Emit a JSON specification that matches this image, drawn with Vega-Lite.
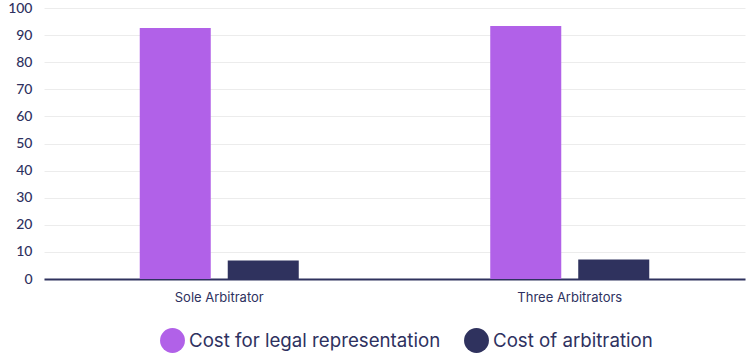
{
  "$schema": "https://vega.github.io/schema/vega-lite/v6.json",
  "width": 701,
  "height": 271,
  "autosize": {"type": "none"},
  "padding": {"left": 44, "top": 8, "right": 6, "bottom": 83},
  "background": "white",
  "config": {"view": {"stroke": null}},
  "data": {
    "values": [
      {"arbitration": "Sole Arbitrator", "cost": "Cost for legal representation", "value": 92.6},
      {"arbitration": "Sole Arbitrator", "cost": "Cost of arbitration", "value": 6.8},
      {"arbitration": "Three Arbitrators", "cost": "Cost for legal representation", "value": 93.4},
      {"arbitration": "Three Arbitrators", "cost": "Cost of arbitration", "value": 7.2}
    ]
  },
  "mark": {"type": "bar"},
  "encoding": {
    "x": {
      "field": "arbitration", "type": "nominal",
      "scale": {"paddingInner": 0.0442, "paddingOuter": 0.0221},
      "axis": {
        "title": null, "labelAngle": 0, "domain": true, "domainColor": "#2f325e", "domainWidth": 2,
        "ticks": false,
        "labelFont": "Inter", "labelFontSize": 13, "labelColor": "#2e3160",
        "labelPadding": 12, "grid": false
      }
    },
    "xOffset": {
      "field": "cost", "type": "nominal",
      "sort": ["Cost for legal representation", "Cost of arbitration"],
      "scale": {"paddingInner": 0.193, "paddingOuter": 1}
    },
    "y": {
      "field": "value", "type": "quantitative",
      "scale": {"domain": [0, 100], "nice": false},
      "axis": {
        "title": null, "tickCount": 10, "tickMinStep": 10,
        "domain": false, "ticks": false, "gridColor": "#ececec", "gridWidth": 1,
        "labelFont": "Lato", "labelFontSize": 14, "labelFontWeight": 500,
        "labelColor": "#2e3160", "labelPadding": 12, "labelOverlap": false
      }
    },
    "color": {
      "field": "cost", "type": "nominal",
      "scale": {
        "domain": ["Cost for legal representation", "Cost of arbitration"],
        "range": ["#b161e8", "#2f325e"]
      },
      "legend": {
        "title": null, "orient": "none", "direction": "horizontal",
        "legendX": 116, "legendY": 320,
        "symbolType": "circle", "symbolSize": 620, "symbolStrokeWidth": 0,
        "symbolOpacity": 1, "labelLimit": 400,
        "labelFont": "Inter", "labelFontSize": 18.7, "labelColor": "#2e3160",
        "columnPadding": 23, "labelOffset": 4, "symbolOffset": 0
      }
    }
  }
}
